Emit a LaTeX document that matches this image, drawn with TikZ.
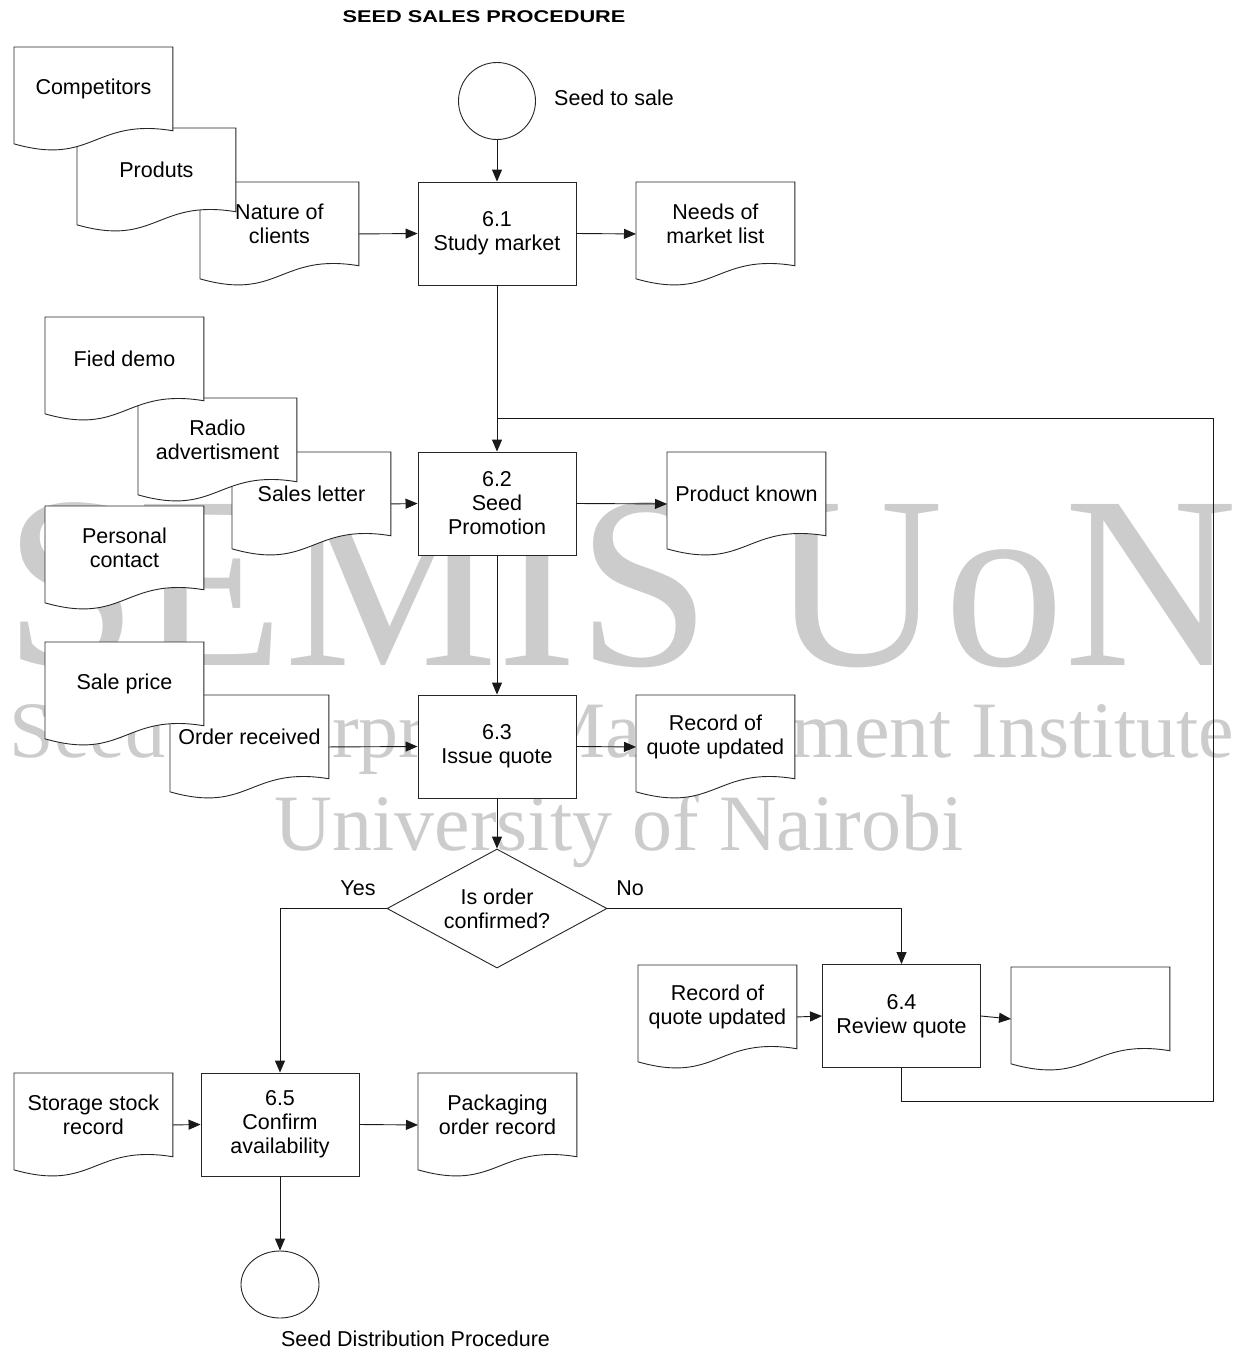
\documentclass[tikz,border=0pt]{standalone}
\usepackage{fontspec}
\setmainfont{Liberation Sans}
\newfontfamily\wmfont{Liberation Serif}
\usepackage{graphicx}
\usetikzlibrary{arrows.meta,shapes.geometric}
\makeatletter
\newdimen\dsXa \newdimen\dsYa \newdimen\dsXb \newdimen\dsYb
\newdimen\dsW \newdimen\dsH \newdimen\dsXm
\newdimen\dsYr \newdimen\dsYc \newdimen\dsYd \newdimen\dsYl
\pgfdeclareshape{docshape}{%
  \inheritsavedanchors[from=rectangle]%
  \inheritanchorborder[from=rectangle]%
  \inheritanchor[from=rectangle]{center}%
  \inheritanchor[from=rectangle]{north}%
  \inheritanchor[from=rectangle]{south}%
  \inheritanchor[from=rectangle]{west}%
  \inheritanchor[from=rectangle]{east}%
  \inheritanchor[from=rectangle]{north west}%
  \inheritanchor[from=rectangle]{north east}%
  \inheritanchor[from=rectangle]{south west}%
  \inheritanchor[from=rectangle]{south east}%
  \backgroundpath{%
    \southwest \dsXa=\pgf@x \dsYa=\pgf@y
    \northeast \dsXb=\pgf@x \dsYb=\pgf@y
    \dsW=\dsXb \advance\dsW by -\dsXa
    \dsH=\dsYb \advance\dsH by -\dsYa
    \dsXm=\dsXa \advance\dsXm by .5\dsW
    \dsYr=\dsYb \advance\dsYr by -.806\dsH
    \dsYc=\dsYb \advance\dsYc by -.68\dsH
    \dsYd=\dsYb \advance\dsYd by -1.15\dsH
    \dsYl=\dsYb \advance\dsYl by -.932\dsH
    \pgfpathmoveto{\pgfqpoint{\dsXa}{\dsYb}}%
    \pgfpathlineto{\pgfqpoint{\dsXb}{\dsYb}}%
    \pgfpathlineto{\pgfqpoint{\dsXb}{\dsYr}}%
    \pgfpathcurveto{\pgfqpoint{\dsXm}{\dsYc}}{\pgfqpoint{\dsXm}{\dsYd}}{\pgfqpoint{\dsXa}{\dsYl}}%
    \pgfpathclose
  }%
}
\makeatother
\newcommand{\diagfont}{\fontsize{21.5}{24}\selectfont}
\newcommand{\docnode}[4]{%
  \node[docbox] (#1) at (#2,#3) {};
  \node[doctext] (#1t) at ([yshift=10.5pt]#1.center) {#4};
}
\tikzset{
  outline/.style={draw=black!85, line width=0.9pt},
  proc/.style={outline, rectangle, fill=white, minimum width=158pt, minimum height=103pt,
    inner sep=0pt, align=center, font=\diagfont},
  docbox/.style={outline, shape=docshape, fill=white, minimum width=158pt,
    minimum height=103pt, inner sep=0pt, anchor=north west},
  doctext/.style={align=center, inner sep=0pt, font=\diagfont},
  plain/.style={align=center, inner sep=0pt, font=\diagfont},
  decision/.style={outline, diamond, fill=white, minimum width=220pt, minimum height=119pt,
    inner sep=0pt, aspect=1.85, align=center, font=\diagfont},
  terminal/.style={outline, ellipse, fill=white, inner sep=0pt},
  arr/.style={draw=black!90, line width=0.9pt, -{Triangle[length=12pt,width=10pt]}},
  conn/.style={draw=black!90, line width=0.9pt},
  wm/.style={text=black!20, inner sep=0pt, anchor=base}
}
\begin{document}
\begin{tikzpicture}[x=1pt,y=-1pt]
\fill[white] (0,0) rectangle (1240,1350);
\useasboundingbox (0,0) rectangle (1240,1350);

% watermark
\node[wm, font=\wmfont\fontsize{246}{246}\selectfont] (wm1) at (621,665) {\scalebox{0.975}[1]{SEMIS UoN}};
\node[wm, font=\wmfont\fontsize{80}{80}\selectfont] (wm2) at (622,757) {Seed Enterprise Management Institute};
\node[wm, font=\wmfont\fontsize{80}{80}\selectfont] (wm3) at (619,850) {University of Nairobi};

% title
\node[inner sep=0pt] (title) at (484,17) {\fontsize{17}{20}\selectfont\bfseries\scalebox{1.28}[1]{SEED SALES PROCEDURE}};

% start terminal
\node[terminal, minimum width=77pt, minimum height=77pt] (start) at (497,101) {};
\node[plain] (startlbl) at (614,98) {Seed to sale};

% group 1
\docnode{nat}{200}{182}{Nature of\\clients}
\docnode{prod}{77}{128}{Produts}
\docnode{comp}{14}{47}{Competitors}
\node[proc] (b61) at (497,233.5) {6.1\\Study market};
\docnode{needs}{636}{182}{Needs of\\market list}

% group 2
\docnode{sales}{232}{452}{Sales letter}
\docnode{radio}{138}{398}{Radio\\advertisment}
\docnode{fied}{45}{317}{Fied demo}
\docnode{personal}{45}{506}{Personal\\contact}
\node[proc] (b62) at (497,503.5) {6.2\\Seed\\Promotion};
\docnode{known}{667}{452}{Product known}

% group 3
\docnode{order}{170}{695}{Order received}
\docnode{sale}{45}{642}{Sale price}
\node[proc] (b63) at (497,746.5) {6.3\\Issue quote};
\docnode{rec1}{636}{695}{Record of\\quote updated}

% decision
\node[decision] (dec) at (497,908.5) {Is order\\confirmed?};
\node[plain] (yes) at (358,888) {Yes};
\node[plain] (no) at (630,888) {No};

% group 4
\docnode{rec2}{638}{965}{Record of\\quote updated}
\node[proc] (b64) at (901.5,1016) {6.4\\Review quote};
\docnode{blank}{1011}{967}{}

% group 5
\docnode{storage}{14}{1073}{Storage stock\\record}
\node[proc] (b65) at (280,1124.5) {6.5\\Confirm\\availability};
\docnode{pack}{418}{1073}{Packaging\\order record}
\node[terminal, minimum width=78pt, minimum height=67pt] (stop) at (280,1284.5) {};
\node[plain] (stoplbl) at (415.5,1339) {Seed Distribution Procedure};

% connectors
\coordinate (loopbr) at (1213,1101);
\coordinate (join) at (497,418);
\draw[arr] (start.south) -- (b61.north);
\draw[arr] (nat.east) -- (b61.west);
\draw[arr] (b61.east) -- (needs.west);
\draw[arr] (b61.south) -- (b62.north);
\draw[conn] (b64.south) |- (loopbr) |- (join);
\draw[arr] (sales.east) -- (b62.west);
\draw[arr] (b62.east) -- (known.west);
\draw[arr] (b62.south) -- (b63.north);
\draw[arr] (order.east) -- (b63.west);
\draw[arr] (b63.east) -- (rec1.west);
\draw[arr] (b63.south) -- (dec.north);
\draw[arr] (dec.west) -| (b65.north);
\draw[arr] (dec.east) -| (b64.north);
\draw[arr] (rec2.east) -- (b64.west);
\draw[arr] (b64.east) -- (blank.west);
\draw[arr] (storage.east) -- (b65.west);
\draw[arr] (b65.east) -- (pack.west);
\draw[arr] (b65.south) -- (stop.north);
\end{tikzpicture}
\end{document}
